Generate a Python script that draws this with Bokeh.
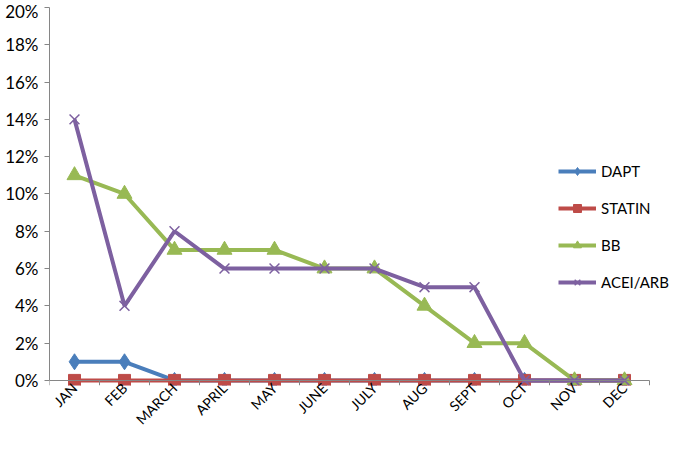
import math
from bokeh.plotting import figure
from bokeh.models import Range1d, FixedTicker, NumeralTickFormatter, Legend, LegendItem, ColumnDataSource, LinearAxis
from bokeh.embed import file_html
from bokeh.resources import INLINE

months = ["JAN", "FEB", "MARCH", "APRIL", "MAY", "JUNE", "JULY", "AUG", "SEPT", "OCT", "NOV", "DEC"]
dapt = [0.01, 0.01, 0, 0, 0, 0, 0, 0, 0, 0, 0, 0]
statin = [0, 0, 0, 0, 0, 0, 0, 0, 0, 0, 0, 0]
bb = [0.11, 0.10, 0.07, 0.07, 0.07, 0.06, 0.06, 0.04, 0.02, 0.02, 0, 0]
acei = [0.14, 0.04, 0.08, 0.06, 0.06, 0.06, 0.06, 0.05, 0.05, 0, 0, 0]
y_ticks = [0, 0.02, 0.04, 0.06, 0.08, 0.10, 0.12, 0.14, 0.16, 0.18, 0.20]

FONT = "Lato"
H = 436
W = 669
MB = 40
MT = 7
fig_top_page = 6.0
frame_top_page = fig_top_page + MT
frame_bottom_page = 385.0   # set by the tick-label axis size
y0_page = 380.0
scale = (y0_page - frame_top_page) / 0.2
ystart = -(frame_bottom_page - y0_page) / scale
px_per_cat = 50.0
frame_width = W - 49
xend = frame_width / px_per_cat

p = figure(width=W, height=H, output_backend="svg", toolbar_location=None,
           x_range=Range1d(0, xend), y_range=Range1d(ystart, 0.2),
           min_border_left=49, min_border_top=MT, min_border_right=0,
           min_border_bottom=MB)
p.outline_line_color = None
p.xgrid.visible = False
p.ygrid.visible = False
p.background_fill_color = "white"

xs = [i + 0.5 for i in range(len(months))]

series = [
    ("DAPT", dapt, "#4A7EBB", "diamond", 16),
    ("STATIN", statin, "#BE4B48", "square", 12),
    ("BB", bb, "#98B954", "triangle", 15),
    ("ACEI/ARB", acei, "#7D60A0", "x", 14),
]
items = []
for name, vals, col, mk, sz in series:
    src = ColumnDataSource(dict(x=xs, y=vals))
    r1 = p.line("x", "y", source=src, line_color=col, line_width=4)
    if mk == "x":
        r2 = p.scatter("x", "y", source=src, marker="x", size=sz, line_color=col, line_width=1.5)
    else:
        r2 = p.scatter("x", "y", source=src, marker=mk, size=sz, fill_color=col, line_color=col)
    items.append(LegendItem(label=name, renderers=[r1, r2]))

legend = Legend(items=items, location=(509, int(frame_bottom_page - 282 - 10)), padding=0, margin=0,
                spacing=17, label_height=20, glyph_height=20, glyph_width=38, label_standoff=5,
                label_text_font=FONT, label_text_font_size="15px", label_text_color="#000000",
                border_line_color=None, background_fill_alpha=0)
p.add_layout(legend, "center")

ya = p.yaxis[0]
ya.ticker = FixedTicker(ticks=y_ticks)
ya.formatter = NumeralTickFormatter(format="0%")
ya.bounds = (0, 0.2)
ya.axis_line_color = "#868686"
ya.major_tick_line_color = "#868686"
ya.major_tick_out = 5
ya.major_tick_in = 0
ya.minor_tick_line_color = None
ya.major_label_text_font = FONT
ya.major_label_text_font_size = "17px"
ya.major_label_text_color = "#000000"
ya.major_label_standoff = 6

# labels axis (at frame bottom)
xa = p.xaxis[0]
xa.ticker = FixedTicker(ticks=xs)
xa.major_label_overrides = {x: m for x, m in zip(xs, months)}
xa.axis_line_color = None
xa.major_tick_line_color = None
xa.major_tick_out = 0
xa.major_tick_in = 0
xa.minor_tick_line_color = None
xa.minor_tick_out = 0
xa.major_label_orientation = math.pi / 4
xa.major_label_text_font = FONT
xa.major_label_text_font_size = "14px"
xa.major_label_text_color = "#000000"
xa.major_label_standoff = 0

# baseline axis at y = 0 with boundary ticks (ticks point down into the frame)
xb = LinearAxis(fixed_location=0, ticker=FixedTicker(ticks=[], minor_ticks=list(range(13))),
                bounds=(0, 12), axis_line_color="#868686", major_tick_line_color=None,
                major_tick_out=0, major_tick_in=0,
                minor_tick_line_color="#868686", minor_tick_out=0, minor_tick_in=5,
                major_label_text_font_size="0px", major_label_standoff=0)
p.add_layout(xb, "above")

open("out.html", "w").write(file_html(p, INLINE))
